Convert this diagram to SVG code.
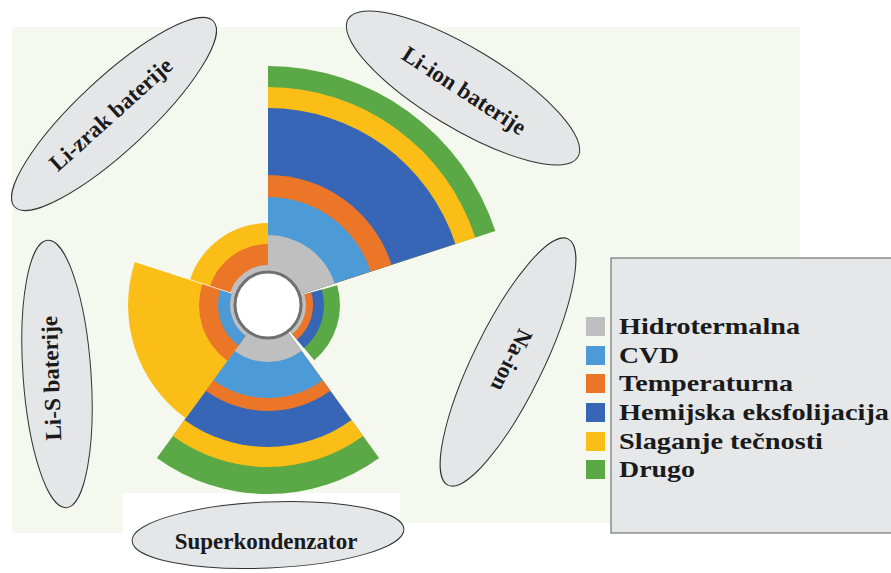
<svg xmlns="http://www.w3.org/2000/svg" width="891" height="573" viewBox="0 0 891 573">
<style>
.bg{fill:#f5f8ee}
.gr{fill:#bfbfbf}.cb{fill:#4c9ad6}.or{fill:#ec7628}.db{fill:#3766b6}.ye{fill:#fbbe16}.gn{fill:#5ba846}
.node ellipse{fill:#e5e6e8;stroke:#333;stroke-width:1}
.lbl{font-family:"Liberation Serif","Times New Roman",serif;font-weight:bold;font-size:23px;fill:#1a1a1a}
.leg{font-family:"Liberation Serif","Times New Roman",serif;font-weight:bold;font-size:24px;fill:#1a1a1a}
</style>
<rect width="891" height="573" fill="#ffffff"/>
<g id="panel">
<rect class="bg" x="12" y="27" width="788" height="496"/>
<rect class="bg" x="12" y="490" width="111" height="43"/>
<rect x="123" y="493" width="277" height="80" fill="#ffffff"/>
</g>
<g id="chart">
<g id="sector-li-ion">
<path class="gn" d="M268 305 L268 66 A239 239 0 0 1 495.3 231.1 Z"/>
<path class="ye" d="M268 305 L268 87 A218 218 0 0 1 475.3 237.6 Z"/>
<path class="db" d="M268 305 L268 108 A197 197 0 0 1 455.4 244.1 Z"/>
<path class="or" d="M268 305 L268 175 A130 130 0 0 1 391.6 264.8 Z"/>
<path class="cb" d="M268 305 L268 197 A108 108 0 0 1 370.7 271.6 Z"/>
<path class="gr" d="M268 305 L268 235 A70 70 0 0 1 334.6 283.4 Z"/>
</g>
<g id="sector-na-ion">
<path class="gn" d="M268 305 L337.2 285.2 A72 72 0 0 1 314.3 360.2 Z"/>
<path class="db" d="M268 305 L321.8 289.6 A56 56 0 0 1 304.0 347.9 Z"/>
<path class="or" d="M268 305 L311.3 292.6 A45 45 0 0 1 296.9 339.5 Z"/>
<path class="gr" d="M268 305 L304.5 294.5 A38 38 0 0 1 292.4 334.1 Z"/>
</g>
<g id="sector-superkondenzator">
<path class="gn" d="M268 305 L379.1 457.9 A189 189 0 0 1 156.9 457.9 Z"/>
<path class="ye" d="M268 305 L363.2 436.1 A162 162 0 0 1 172.8 436.1 Z"/>
<path class="db" d="M268 305 L351.5 419.9 A142 142 0 0 1 184.5 419.9 Z"/>
<path class="or" d="M268 305 L330.3 390.8 A106 106 0 0 1 205.7 390.8 Z"/>
<path class="cb" d="M268 305 L322.7 380.2 A93 93 0 0 1 213.3 380.2 Z"/>
<path class="gr" d="M268 305 L301.5 351.1 A57 57 0 0 1 234.5 351.1 Z"/>
</g>
<g id="sector-li-s">
<path class="ye" d="M268 305 L185.7 418.3 A140 140 0 0 1 134.9 261.7 Z"/>
<path class="or" d="M268 305 L227.4 360.8 A69 69 0 0 1 202.4 283.7 Z"/>
<path class="cb" d="M268 305 L238.6 345.5 A50 50 0 0 1 220.4 289.5 Z"/>
<path class="gr" d="M268 305 L245.7 335.7 A38 38 0 0 1 231.9 293.3 Z"/>
</g>
<g id="sector-li-zrak">
<path class="ye" d="M268 305 L190.0 279.7 A82 82 0 0 1 268 223 Z"/>
<path class="or" d="M268 305 L210.0 286.1 A61 61 0 0 1 268 244 Z"/>
<path class="gr" d="M268 305 L230.0 292.6 A40 40 0 0 1 268 265 Z"/>
</g>
<line x1="231.9" y1="293.3" x2="134.9" y2="261.7" stroke="#ffffff" stroke-opacity="0.7" stroke-width="1"/>
<circle cx="268" cy="305" r="33" fill="#ffffff" stroke="#707070" stroke-width="3"/>
</g>
<g id="connectors"></g>
<g id="node-li-zrak" class="node">
<ellipse cx="114" cy="114" rx="136" ry="36" transform="rotate(-43 114 114)"/>
<text class="lbl" x="116" y="120" text-anchor="middle" transform="rotate(-42 116 120)">Li-zrak baterije</text>
</g>
<g id="node-li-ion" class="node">
<ellipse cx="463" cy="88" rx="134" ry="40" transform="rotate(31 463 88)"/>
<text class="lbl" x="460" y="97" text-anchor="middle" transform="rotate(33 460 97)">Li-ion baterije</text>
</g>
<g id="node-na-ion" class="node">
<ellipse cx="508" cy="362" rx="137" ry="35" transform="rotate(116 508 362)"/>
<text class="lbl" x="505" y="357" text-anchor="middle" transform="rotate(116 505 357)">Na-ion</text>
</g>
<g id="node-li-s" class="node">
<ellipse cx="57" cy="374" rx="134" ry="34" transform="rotate(86 57 374)"/>
<text class="lbl" x="59" y="378" text-anchor="middle" transform="rotate(-92 59 378)">Li-S baterije</text>
</g>
<g id="node-superkondenzator" class="node">
<ellipse cx="268" cy="535" rx="136" ry="33" transform="rotate(-2.5 268 535)"/>
<text class="lbl" x="266" y="549" text-anchor="middle">Superkondenzator</text>
</g>
<g id="legend">
<rect x="611" y="258" width="290" height="275" fill="#e6e7e9" stroke="#5a5a5a" stroke-width="1"/>
<rect class="gr" x="586" y="317" width="19" height="19"/>
<rect class="cb" x="586" y="346" width="19" height="19"/>
<rect class="or" x="586" y="374" width="19" height="19"/>
<rect class="db" x="586" y="403" width="19" height="19"/>
<rect class="ye" x="586" y="432" width="19" height="19"/>
<rect class="gn" x="586" y="460" width="19" height="19"/>
<text class="leg" x="619" y="334" textLength="181" lengthAdjust="spacingAndGlyphs">Hidrotermalna</text>
<text class="leg" x="619" y="363" textLength="60" lengthAdjust="spacingAndGlyphs">CVD</text>
<text class="leg" x="619" y="391" textLength="174" lengthAdjust="spacingAndGlyphs">Temperaturna</text>
<text class="leg" x="619" y="420" textLength="270" lengthAdjust="spacingAndGlyphs">Hemijska eksfolijacija</text>
<text class="leg" x="619" y="449" textLength="204" lengthAdjust="spacingAndGlyphs">Slaganje tečnosti</text>
<text class="leg" x="619" y="477" textLength="76" lengthAdjust="spacingAndGlyphs">Drugo</text>
</g>
</svg>
